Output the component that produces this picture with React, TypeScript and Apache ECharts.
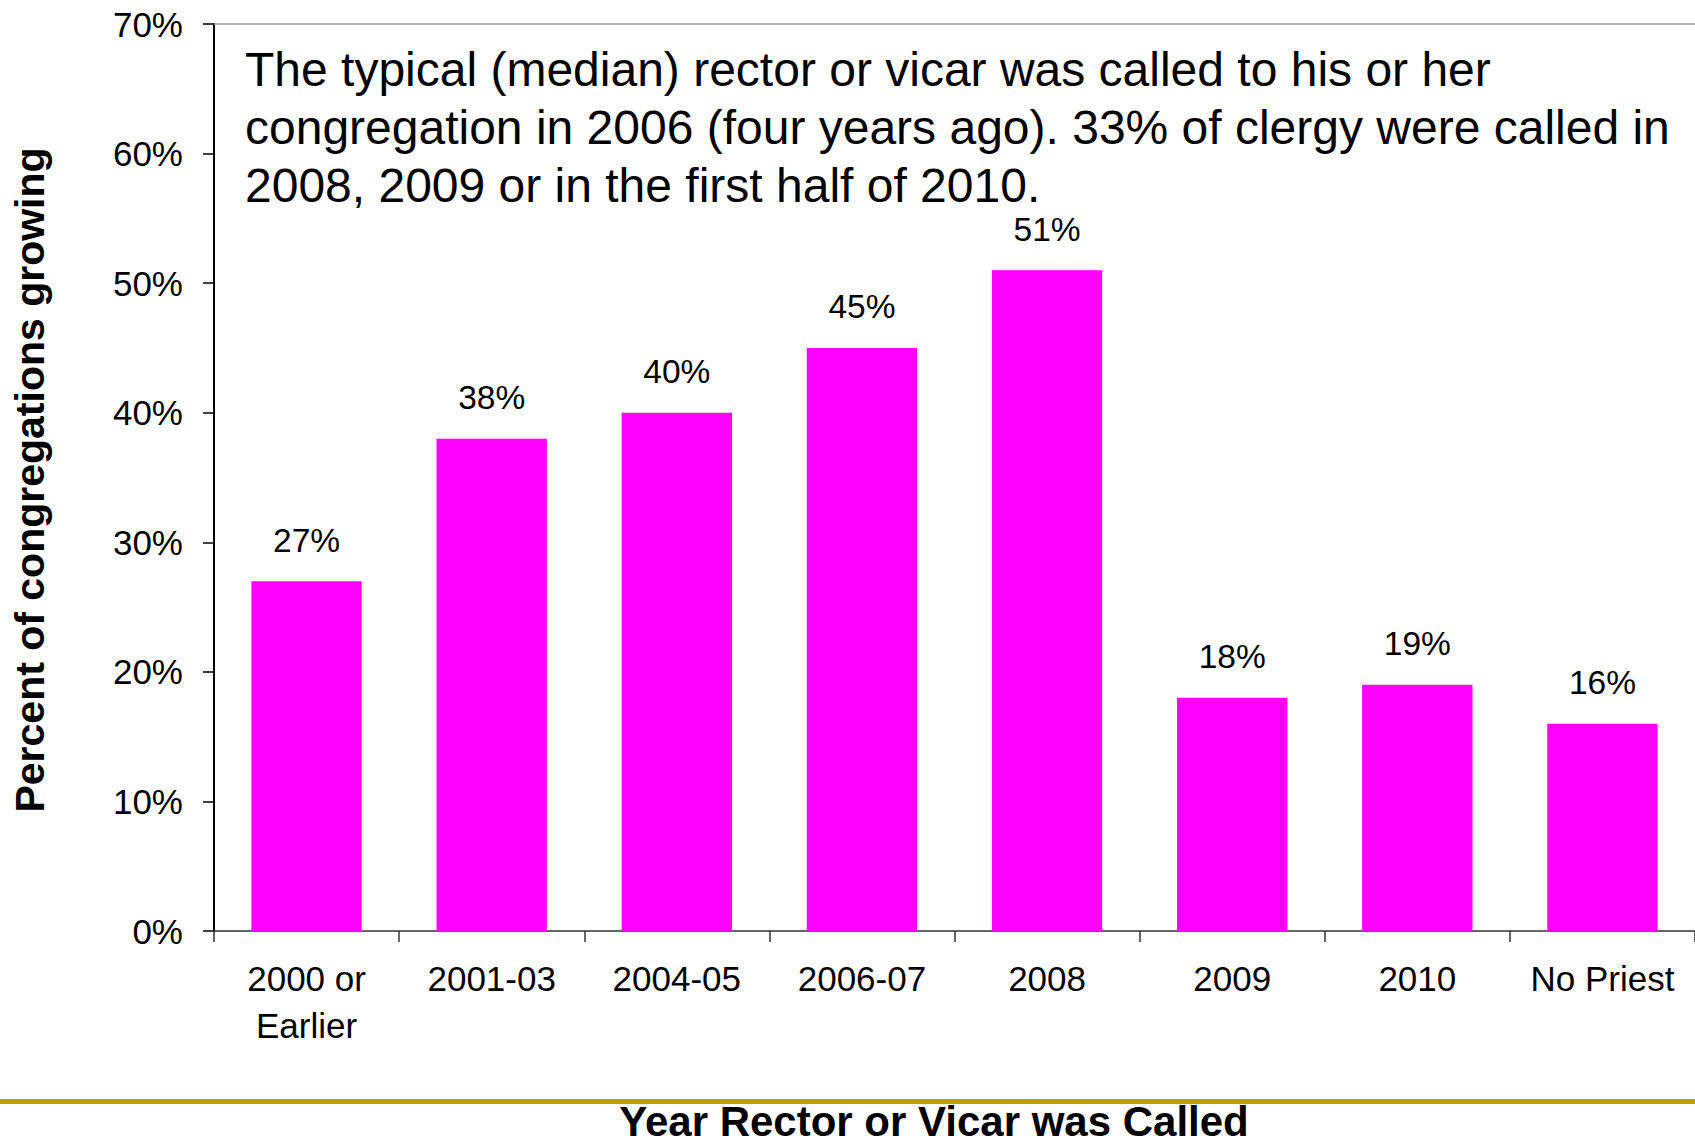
import React, { useEffect, useRef } from "react";
import * as echarts from "echarts";

const categories = ["2000 or\nEarlier", "2001-03", "2004-05", "2006-07", "2008", "2009", "2010", "No Priest"];
const growingPct = [27, 38, 40, 45, 51, 18, 19, 16];
const yTicks = { min: 0, max: 70, interval: 10 };
const annotation =
  "The typical (median) rector or vicar was called to his or her\ncongregation in 2006 (four years ago). 33% of clergy were called in\n2008, 2009 or in the first half of 2010.";
const yTitle = "Percent of congregations growing";
const xTitle = "Year Rector or Vicar was Called";

const FONT = "'Liberation Sans', Arial, Helvetica, sans-serif";

export default function App() {
  const ref = useRef<HTMLDivElement>(null);
  useEffect(() => {
    if (!ref.current) return;
    const chart = echarts.init(ref.current, undefined, { renderer: "svg" });
    chart.setOption({
      animation: false,
      backgroundColor: "#ffffff",
      textStyle: { fontFamily: FONT },
      grid: { left: 214, right: 0, top: 24, bottom: 215, containLabel: false },
      xAxis: [
        {
          type: "category",
          data: categories,
          axisLine: { show: true, lineStyle: { color: "#333333", width: 1.5 } },
          axisTick: { show: true, length: 11, alignWithLabel: false, lineStyle: { color: "#333333", width: 1.5 } },
          axisLabel: {
            color: "#000000",
            fontSize: 35,
            fontFamily: FONT,
            lineHeight: 47,
            margin: 24,
            interval: 0,
          },
        },
        {
          type: "category",
          position: "top",
          data: categories,
          axisLine: { show: true, lineStyle: { color: "#999999", width: 1.5 } },
          axisTick: { show: false },
          axisLabel: { show: false },
        },
      ],
      yAxis: {
        type: "value",
        min: yTicks.min,
        max: yTicks.max,
        interval: yTicks.interval,
        axisLine: { show: true, lineStyle: { color: "#000000", width: 2 } },
        axisTick: { show: true, length: 11, lineStyle: { color: "#000000", width: 1.5 } },
        splitLine: { show: false },
        axisLabel: {
          color: "#000000",
          fontSize: 35,
          fontFamily: FONT,
          margin: 31,
          formatter: "{value}%",
        },
      },
      series: [
        {
          type: "bar",
          data: growingPct,
          xAxisIndex: 0,
          barWidth: "59.6%",
          itemStyle: { color: "#FF00FF" },
          label: {
            show: true,
            position: "top",
            distance: 24,
            color: "#000000",
            fontSize: 33.5,
            fontFamily: FONT,
            formatter: "{c}%",
          },
        },
      ],
      graphic: [
        {
          type: "text",
          left: 245,
          top: 40,
          style: {
            text: annotation,
            fill: "#000000",
            fontSize: 48,
            lineHeight: 58,
            fontFamily: FONT,
          },
        },
        {
          type: "text",
          x: 30,
          y: 480,
          rotation: Math.PI / 2,
          style: {
            text: yTitle,
            fill: "#000000",
            fontSize: 41,
            fontWeight: "bold",
            fontFamily: FONT,
            align: "center",
            verticalAlign: "middle",
          },
        },
        {
          type: "rect",
          shape: { x: 0, y: 1099, width: 1695, height: 5 },
          style: { fill: "#CC9900" },
        },
        {
          type: "text",
          x: 934,
          y: 1121,
          style: {
            text: xTitle,
            fill: "#000000",
            fontSize: 42,
            lineHeight: 36,
            fontWeight: "bold",
            fontFamily: FONT,
            align: "center",
            verticalAlign: "middle",
          },
        },
      ],
    });
    return () => chart.dispose();
  }, []);
  return (
    <div
      ref={ref}
      style={{ position: "fixed", left: 0, top: 0, width: 1695, height: 1146 }}
    />
  );
}
